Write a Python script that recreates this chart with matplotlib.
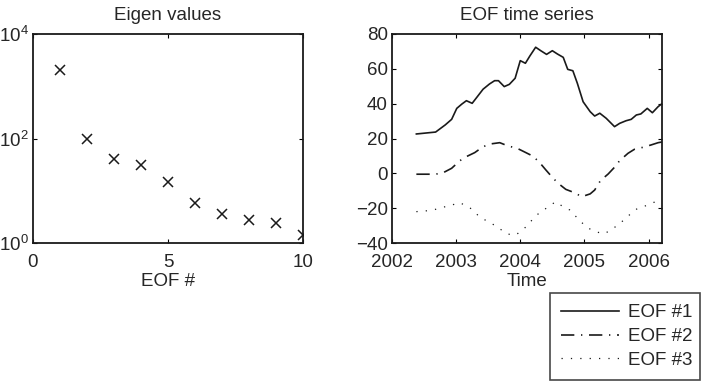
import matplotlib
matplotlib.use("Agg")
import matplotlib.pyplot as plt
from matplotlib.ticker import FixedLocator, NullLocator

plt.rcParams['font.family'] = ['Liberation Sans', 'DejaVu Sans']
plt.rcParams['mathtext.fontset'] = 'custom'
plt.rcParams['mathtext.rm'] = 'Liberation Sans'
plt.rcParams['mathtext.it'] = 'Liberation Sans'
FS = 13.5
plt.rcParams['font.size'] = FS

# ---- data ----
eof_index = [1, 2, 3, 4, 5, 6, 7, 8, 9, 10]
eigen_values = [2040, 96, 41, 31, 15, 5.8, 3.6, 2.8, 2.45, 1.42]

t1 = [2002.38, 2002.68, 2002.83, 2002.93, 2003.01, 2003.09, 2003.16, 2003.25,
      2003.33, 2003.42, 2003.52, 2003.60, 2003.66, 2003.75, 2003.83, 2003.92,
      2004.00, 2004.08, 2004.15, 2004.24, 2004.32, 2004.41, 2004.50, 2004.58,
      2004.67, 2004.74, 2004.82, 2004.89, 2004.98, 2005.09, 2005.16, 2005.24,
      2005.34, 2005.47, 2005.55, 2005.65, 2005.73, 2005.81, 2005.88, 2005.98,
      2006.06, 2006.15, 2006.21]
eof1 = [22.6, 23.7, 27.8, 31.0, 37.3, 39.8, 41.7, 40.2,
        44.0, 48.3, 51.3, 53.2, 53.2, 49.8, 51.1, 54.6,
        64.7, 63.2, 67.4, 72.4, 70.4, 68.3, 70.4, 68.5,
        66.6, 59.7, 58.9, 51.7, 41.1, 35.4, 32.9, 34.5,
        31.6, 26.8, 28.7, 30.2, 31.0, 33.5, 34.1, 37.3,
        34.8, 38.3, 40.0]

t2 = [2002.38, 2002.68, 2002.80, 2002.93, 2003.06, 2003.16, 2003.29, 2003.42,
      2003.54, 2003.68, 2003.81, 2003.95, 2004.06, 2004.19, 2004.29, 2004.40,
      2004.50, 2004.59, 2004.71, 2004.83, 2004.96, 2005.09, 2005.16, 2005.25,
      2005.37, 2005.47, 2005.55, 2005.68, 2005.78, 2005.92, 2006.04, 2006.15,
      2006.21]
eof2 = [-0.5, -0.5, 0.4, 2.9, 7.3, 9.6, 11.9, 15.3,
        16.9, 17.6, 15.7, 14.4, 12.4, 10.0, 6.7, 1.9,
        -2.3, -5.7, -9.2, -10.9, -13.4, -11.8, -9.6, -4.2,
        -0.4, 3.5, 7.3, 11.5, 13.8, 15.0, 16.3, 17.6,
        18.0]

t3 = [2002.38, 2002.52, 2002.65, 2002.78, 2002.91, 2003.03, 2003.15, 2003.26,
      2003.35, 2003.47, 2003.59, 2003.69, 2003.80, 2003.92, 2004.04, 2004.13,
      2004.22, 2004.32, 2004.43, 2004.55, 2004.65, 2004.77, 2004.86, 2004.96,
      2005.06, 2005.18, 2005.30, 2005.42, 2005.52, 2005.63, 2005.73, 2005.83,
      2005.95, 2006.07, 2006.15]
eof3 = [-22.0, -21.6, -21.0, -19.5, -18.7, -16.8, -18.2, -21.0,
        -24.5, -27.2, -29.6, -32.1, -34.8, -35.6, -32.5, -29.1,
        -25.2, -22.0, -19.5, -16.3, -18.7, -21.0, -24.5, -28.3,
        -31.5, -33.5, -34.8, -32.5, -29.6, -26.4, -22.9, -20.1,
        -18.7, -16.8, -16.0]

series_labels = ['EOF #1', 'EOF #2', 'EOF #3']

W, H = 705, 391
fig = plt.figure(figsize=(W / 100, H / 100), dpi=100)

def ax_rect(x0, x1, y0, y1):
    return [x0 / W, (H - y1) / H, (x1 - x0) / W, (y1 - y0) / H]

INK = '#1a1a1a'
TXT = '#262626'

# ---- left: eigen values ----
ax1 = fig.add_axes(ax_rect(33, 303, 34, 243))
ax1.semilogy(eof_index, eigen_values, linestyle='none', marker='x',
             color=INK, markersize=6.5, markeredgewidth=1.1)
ax1.set_xlim(0, 10)
ax1.set_ylim(1, 1e4)
ax1.set_xticks([0, 5, 10])
ax1.yaxis.set_major_locator(FixedLocator([1, 1e2, 1e4]))
ax1.yaxis.set_minor_locator(NullLocator())
ax1.set_yticklabels([r'$10^{0}$', r'$10^{2}$', r'$10^{4}$'])
ax1.set_title('Eigen values', fontsize=FS, pad=10, color=TXT)
ax1.set_xlabel('EOF #', fontsize=FS, labelpad=1, color=TXT)

# ---- right: time series ----
ax2 = fig.add_axes(ax_rect(392, 662, 34, 243))
l1, = ax2.plot(t1, eof1, '-', color=INK, lw=1.2)
l2, = ax2.plot(t2, eof2, color=INK, lw=1.2, linestyle=(0, (8, 4, 0.8, 4)))
l3, = ax2.plot(t3, eof3, color=INK, lw=0.9, linestyle=(0, (1, 6.5)))
ax2.set_xlim(2002.04, 2006.21)
ax2.set_ylim(-40, 80)
ax2.set_xticks([2002, 2003, 2004, 2005, 2006])
ax2.set_xticklabels(['2002', '2003', '2004', '2005', '2006'])
ax2.set_yticks([-40, -20, 0, 20, 40, 60, 80])
ax2.set_title('EOF time series', fontsize=FS, pad=10, color=TXT)
ax2.set_xlabel('Time', fontsize=FS, labelpad=1, color=TXT)

for ax in (ax1, ax2):
    ax.tick_params(direction='in', top=True, right=True, length=3,
                   width=0.8, labelsize=FS, labelcolor=TXT)
    ax.tick_params(axis='x', pad=8)
    ax.tick_params(axis='y', pad=3)
    for s in ax.spines.values():
        s.set_linewidth(1.3)
        s.set_color(INK)

leg = fig.legend([l1, l2, l3], series_labels,
                 loc='upper left',
                 bbox_to_anchor=(550 / W, (H - 293) / H, 150 / W, 0),
                 mode='expand', borderaxespad=0,
                 fontsize=FS, frameon=True, fancybox=False,
                 edgecolor=INK, handlelength=3.1, borderpad=0.6,
                 labelspacing=0.35, handletextpad=0.45)
leg.get_frame().set_linewidth(1.2)
for t in leg.get_texts():
    t.set_color(TXT)

fig.savefig('out.png', dpi=100)
